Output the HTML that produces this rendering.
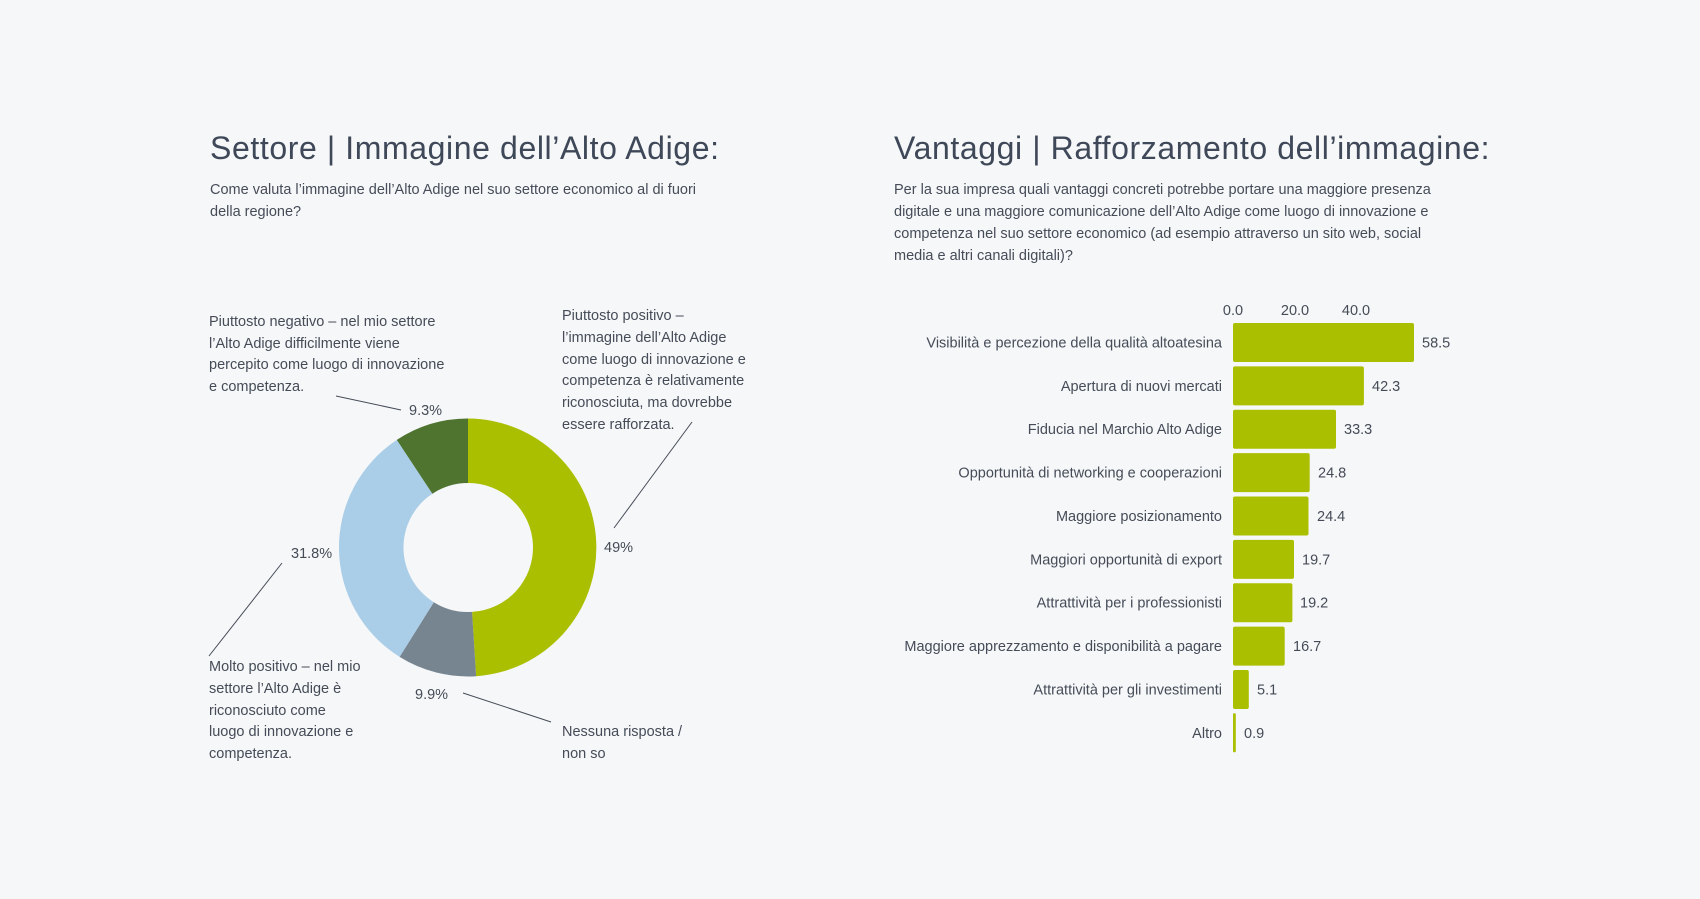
<!DOCTYPE html>
<html><head><meta charset="utf-8"><style>
html,body{margin:0;padding:0;background:#f6f7f8;}
svg{display:block;font-family:"Liberation Sans",sans-serif;}
.t{font-size:32px;letter-spacing:0.6px;fill:#3e4858;}
.s{font-size:14.5px;fill:#454c58;}
.l{font-size:14.5px;fill:#454c58;}
</style></head><body>
<svg width="1700" height="899" viewBox="0 0 1700 899" xmlns="http://www.w3.org/2000/svg">
<rect width="1700" height="899" fill="#f6f7f8"/>
<text class="t" x="210" y="159">Settore | Immagine dell’Alto Adige:</text>
<text class="s" x="210" y="194">Come valuta l’immagine dell’Alto Adige nel suo settore economico al di fuori</text>
<text class="s" x="210" y="216">della regione?</text>

<text class="t" x="894" y="159">Vantaggi | Rafforzamento dell’immagine:</text>
<text class="s" x="894" y="194">Per la sua impresa quali vantaggi concreti potrebbe portare una maggiore presenza</text>
<text class="s" x="894" y="216">digitale e una maggiore comunicazione dell’Alto Adige come luogo di innovazione e</text>
<text class="s" x="894" y="238">competenza nel suo settore economico (ad esempio attraverso un sito web, social</text>
<text class="s" x="894" y="260">media e altri canali digitali)?</text>

<path d="M468,418.5 A129,129 0 0 1 476.1,676.2 L472.05,611.9 A64.5,64.5 0 0 0 468,483 Z" fill="#aabf00"/>
<path d="M476.1,676.2 A129,129 0 0 1 399.6,656.9 L433.8,602.2 A64.5,64.5 0 0 0 472.05,611.9 Z" fill="#76858f"/>
<path d="M399.6,656.9 A129,129 0 0 1 396.8,439.9 L432.4,493.7 A64.5,64.5 0 0 0 433.8,602.2 Z" fill="#aacde8"/>
<path d="M396.8,439.9 A129,129 0 0 1 468,418.5 L468,483 A64.5,64.5 0 0 0 432.4,493.7 Z" fill="#4e7430"/>

<g stroke="#454c58" stroke-width="1">
<line x1="336" y1="396" x2="401" y2="410"/>
<line x1="614" y1="528" x2="692" y2="422"/>
<line x1="209" y1="656" x2="282" y2="563"/>
<line x1="463" y1="693" x2="551" y2="722"/>
</g>
<g class="l">
<text x="409" y="415">9.3%</text>
<text x="604" y="552">49%</text>
<text x="291" y="558">31.8%</text>
<text x="415" y="699">9.9%</text>
<text x="209" y="326">Piuttosto negativo – nel mio settore</text>
<text x="209" y="348">l’Alto Adige difficilmente viene</text>
<text x="209" y="369">percepito come luogo di innovazione</text>
<text x="209" y="391">e competenza.</text>
<text x="562" y="320">Piuttosto positivo –</text>
<text x="562" y="342">l’immagine dell’Alto Adige</text>
<text x="562" y="364">come luogo di innovazione e</text>
<text x="562" y="385">competenza è relativamente</text>
<text x="562" y="407">riconosciuta, ma dovrebbe</text>
<text x="562" y="429">essere rafforzata.</text>
<text x="209" y="671">Molto positivo – nel mio</text>
<text x="209" y="693">settore l’Alto Adige è</text>
<text x="209" y="715">riconosciuto come</text>
<text x="209" y="736">luogo di innovazione e</text>
<text x="209" y="758">competenza.</text>
<text x="562" y="736">Nessuna risposta /</text>
<text x="562" y="758">non so</text>
</g>

<g class="l" text-anchor="middle">
<text x="1233" y="315">0.0</text>
<text x="1295" y="315">20.0</text>
<text x="1356" y="315">40.0</text>
</g>
<g fill="#aabf00">
<rect x="1233" y="323" width="181" height="39" rx="2"/>
<rect x="1233" y="366.4" width="130.9" height="39" rx="2"/>
<rect x="1233" y="409.7" width="103" height="39" rx="2"/>
<rect x="1233" y="453.1" width="76.7" height="39" rx="2"/>
<rect x="1233" y="496.5" width="75.5" height="39" rx="2"/>
<rect x="1233" y="539.9" width="61" height="39" rx="2"/>
<rect x="1233" y="583.2" width="59.4" height="39" rx="2"/>
<rect x="1233" y="626.6" width="51.7" height="39" rx="2"/>
<rect x="1233" y="670" width="15.8" height="39" rx="2"/>
<rect x="1233" y="713.3" width="2.8" height="39" rx="1"/>
</g>
<g class="l" text-anchor="end">
<text x="1222" y="347.5">Visibilità e percezione della qualità altoatesina</text>
<text x="1222" y="390.9">Apertura di nuovi mercati</text>
<text x="1222" y="434.2">Fiducia nel Marchio Alto Adige</text>
<text x="1222" y="477.6">Opportunità di networking e cooperazioni</text>
<text x="1222" y="521">Maggiore posizionamento</text>
<text x="1222" y="564.4">Maggiori opportunità di export</text>
<text x="1222" y="607.7">Attrattività per i professionisti</text>
<text x="1222" y="651.1">Maggiore apprezzamento e disponibilità a pagare</text>
<text x="1222" y="694.5">Attrattività per gli investimenti</text>
<text x="1222" y="737.8">Altro</text>
</g>
<g class="l">
<text x="1422" y="347.5">58.5</text>
<text x="1372" y="390.9">42.3</text>
<text x="1344" y="434.2">33.3</text>
<text x="1318" y="477.6">24.8</text>
<text x="1317" y="521">24.4</text>
<text x="1302" y="564.4">19.7</text>
<text x="1300" y="607.7">19.2</text>
<text x="1293" y="651.1">16.7</text>
<text x="1257" y="694.5">5.1</text>
<text x="1244" y="737.8">0.9</text>
</g>
</svg>
</body></html>
